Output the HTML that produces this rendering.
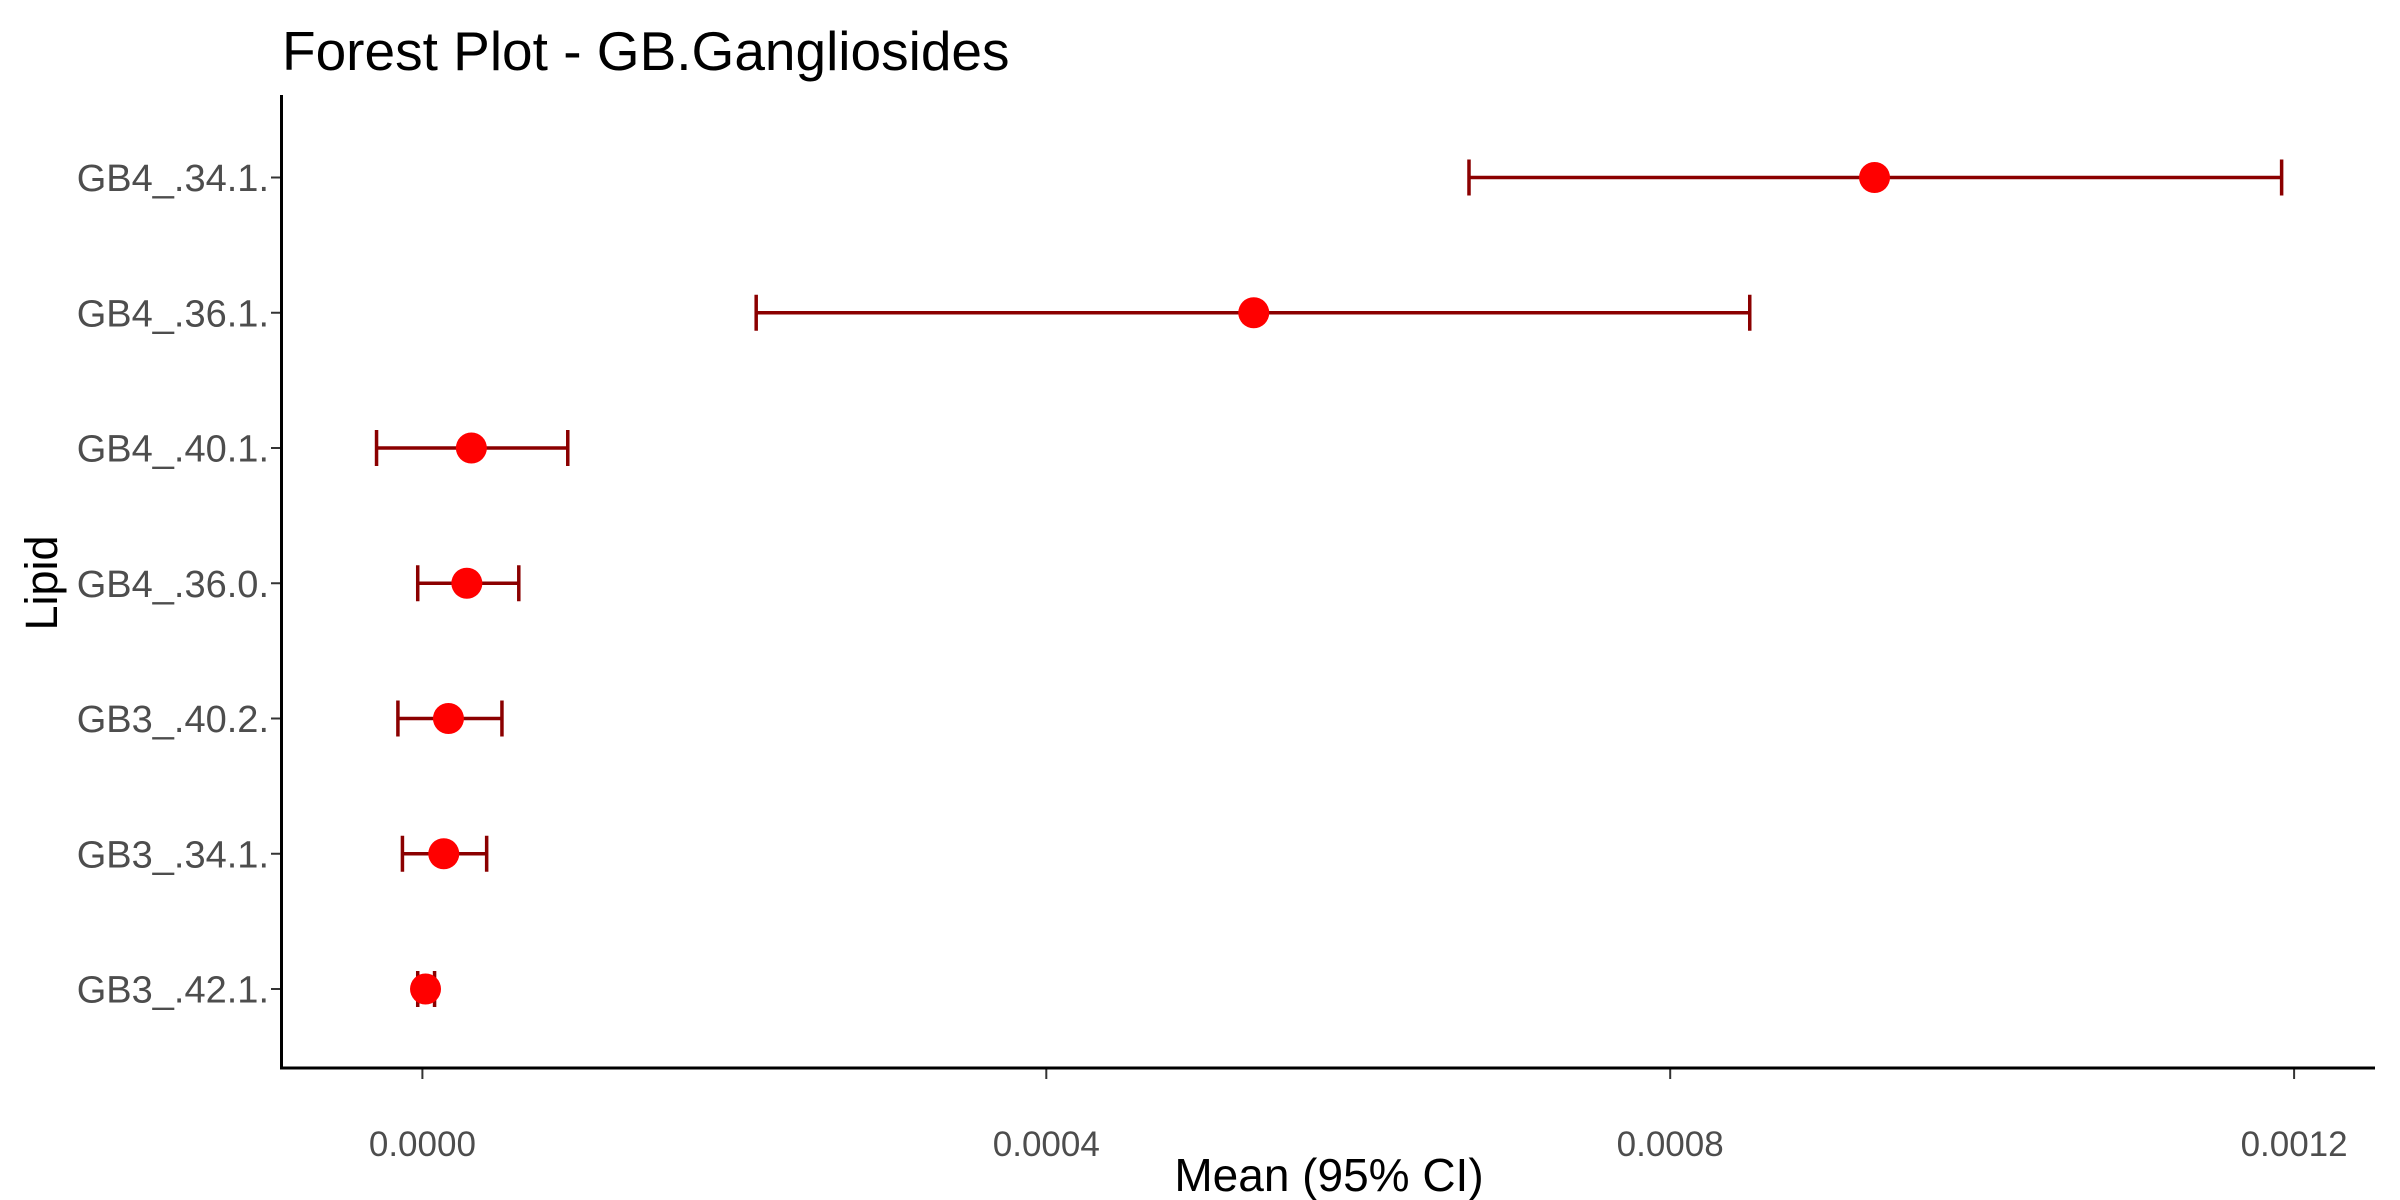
<!DOCTYPE html>
<html><head><meta charset="utf-8"><style>body{margin:0;background:#fff}svg{display:block}text{font-family:"Liberation Sans",Arial,sans-serif}</style></head>
<body>
<svg id="chart" width="2400" height="1200" xmlns="http://www.w3.org/2000/svg">
<text x="282" y="70" font-size="55" fill="#000">Forest Plot - GB.Gangliosides</text>
<g id="plot"></g>
<line x1="281.5" y1="95" x2="281.5" y2="1069.5" stroke="#000" stroke-width="3"/>
<line x1="280" y1="1068" x2="2375" y2="1068" stroke="#000" stroke-width="3"/>
<text x="1329" y="1191" font-size="46" text-anchor="middle" fill="#000">Mean (95% CI)</text>
<text transform="translate(57,583) rotate(-90)" font-size="45" text-anchor="middle" fill="#000">Lipid</text>
</svg>
<script>
const lipids = ["GB4_.34.1.","GB4_.36.1.","GB4_.40.1.","GB4_.36.0.","GB3_.40.2.","GB3_.34.1.","GB3_.42.1."];
const means = [0.000931,0.000533,0.0000314,0.0000285,0.0000167,0.0000137,0.000002];
const lower = [0.000671,0.000214,-0.0000294,-0.000003,-0.0000157,-0.0000128,-0.000003];
const upper = [0.001192,0.000851,0.0000932,0.0000618,0.000051,0.0000412,0.0000078];
const xTicks = [0,0.0004,0.0008,0.0012];
const xTickLabels = ["0.0000","0.0004","0.0008","0.0012"];
const NS="http://www.w3.org/2000/svg";
const g=document.getElementById('plot');
function xs(v){return 422.4+v/0.0004*623.9;}
function ys(i){return 177.5+i*135.25;}
function mk(t,a){const e=document.createElementNS(NS,t);for(const k in a)e.setAttribute(k,a[k]);g.appendChild(e);return e;}
xTicks.forEach((v,i)=>{
  const t=mk('line',{x1:xs(v),x2:xs(v),y1:1069,y2:1079,stroke:'#333','stroke-width':2});
  
  
  const l=mk('text',{x:xs(v),y:1156,'font-size':35,'text-anchor':'middle',fill:'#4d4d4d'});
  l.textContent=xTickLabels[i];
  
  
});
lipids.forEach((n,i)=>{
  const y=ys(i);
  const t=mk('line',{x1:271,x2:281,y1:y,y2:y,stroke:'#333','stroke-width':2});
  
  
  const l=mk('text',{x:269,y:y+13.5,'font-size':38,'text-anchor':'end',fill:'#4d4d4d'});
  l.textContent=n;
  
  
  const eb=mk('path',{d:`M${xs(lower[i])} ${y}H${xs(upper[i])}M${xs(lower[i])} ${y-18}V${y+18}M${xs(upper[i])} ${y-18}V${y+18}`,stroke:'#8b0000','stroke-width':3.5,fill:'none'});
  
  
  const c=mk('circle',{cx:xs(means[i]),cy:y,r:15.5,fill:'#ff0000'});
  
  
});
</script>
</body></html>
